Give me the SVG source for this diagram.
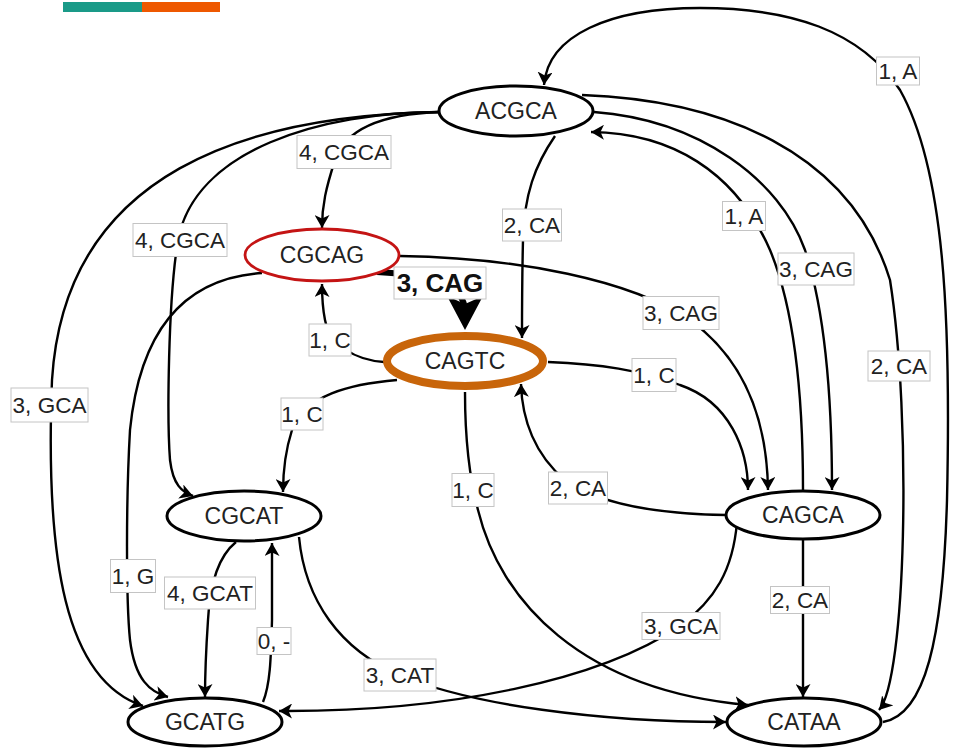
<svg xmlns="http://www.w3.org/2000/svg" width="955" height="751" viewBox="0 0 955 751">
  <style>
    .edge { fill: none; stroke: #000; stroke-width: 2.4; marker-end: url(#arrow); }
    .edge-bold { fill: none; stroke: #000; stroke-width: 6; marker-end: url(#arrow-bold); }
    .lbl rect { fill: #fff; stroke: #c4c4c4; stroke-width: 1; }
    .lbl text { font-family: "Liberation Sans", Arial, sans-serif; font-size: 22.5px; fill: #222; text-anchor: middle; }
    .lbl.bold text { font-weight: bold; font-size: 26px; fill: #111; }
    .node ellipse { fill: #fff; stroke: #000; stroke-width: 3; }
    .node text { font-family: "Liberation Sans", Arial, sans-serif; font-size: 23px; fill: #222; text-anchor: middle; }
    #n-CGCAG ellipse { stroke: #c41414; stroke-width: 2.8; }
    #n-CAGTC ellipse { stroke: #c8650a; stroke-width: 8; }
  </style>
  <defs>
    <marker id="arrow" markerUnits="userSpaceOnUse" markerWidth="14" markerHeight="15" refX="13" refY="7.5" orient="auto">
      <path d="M0,0 L13,7.5 L0,15 L3.5,7.5 z" fill="#000"/>
    </marker>
    <marker id="arrow-bold" markerUnits="userSpaceOnUse" markerWidth="36" markerHeight="38" refX="16" refY="18" orient="auto">
      <path d="M0,0 L34,18 L0,36 L8,18 z" fill="#000"/>
    </marker>
  </defs>

  <!-- colour bar -->
  <g id="legend-bar">
    <rect x="63" y="2" width="79" height="10" fill="#1a9a88"/>
    <rect x="142" y="2" width="78" height="10" fill="#ee5800"/>
  </g>

  <!-- connectors -->
  <g id="connectors">
    <path class="edge" d="M 440 112 C 380 114, 345 130, 335 160 C 326 188, 322 205, 322 228"/>
    <path class="edge" d="M 440 112 C 320 112, 195 150, 178 240 C 168 300, 167 420, 170 460 C 173 485, 182 492, 193 496"/>
    <path class="edge" d="M 440 112 C 250 115, 65 170, 52 380 C 45 560, 65 680, 143 706"/>
    <path class="edge" d="M 262 273 C 185 278, 140 330, 130 430 C 126 500, 126 600, 130 640 C 135 680, 150 692, 168 697"/>
    <path class="edge" d="M 400 256 C 520 258, 630 280, 690 320 C 745 360, 767 420, 768 490"/>
    <path class="edge-bold" d="M 377 272 C 435 275, 465 285, 465 312"/>
    <path class="edge" d="M 384 362 C 355 360, 330 345, 325 320 C 322 305, 322 295, 322 284"/>
    <path class="edge" d="M 555 136 C 535 165, 524 195, 523 240 C 522 280, 522 310, 522 338"/>
    <path class="edge" d="M 548 362 C 600 364, 640 370, 680 385 C 730 402, 748 450, 748 490"/>
    <path class="edge" d="M 726 515 C 660 514, 600 505, 565 480 C 535 455, 522 420, 521 384"/>
    <path class="edge" d="M 397 380 C 350 384, 305 395, 292 430 C 284 455, 283 475, 283 492"/>
    <path class="edge" d="M 465 392 C 465 440, 470 480, 478 510 C 500 600, 580 690, 748 705"/>
    <path class="edge" d="M 236 542 C 220 555, 210 580, 208 620 C 206 650, 205 670, 205 697"/>
    <path class="edge" d="M 263 702 C 270 685, 271 660, 272 620 C 272 590, 272 570, 272 543"/>
    <path class="edge" d="M 299 537 C 305 600, 340 650, 400 675 C 470 705, 600 722, 726 722"/>
    <path class="edge" d="M 737 522 C 733 570, 715 600, 680 626 C 600 680, 450 712, 279 711"/>
    <path class="edge" d="M 803 540 L 803 697"/>
    <path class="edge" d="M 594 112 C 700 120, 780 180, 805 250 C 828 320, 832 420, 832 490"/>
    <path class="edge" d="M 803 490 C 803 400, 795 310, 770 250 C 735 170, 670 133, 591 132"/>
    <path class="edge" d="M 582 95 C 720 100, 850 150, 890 280 C 912 420, 906 680, 879 710"/>
    <path class="edge" d="M 883 722 C 925 715, 943 640, 947 500 C 951 320, 945 170, 900 90 C 860 30, 790 8, 700 8 C 610 8, 548 35, 544 85"/>
  </g>

  <!-- edge labels -->
  <g id="edge-labels">
    <g class="lbl"><rect x="297" y="135.5" width="94" height="33"/><text x="344" y="160">4, CGCA</text></g>
    <g class="lbl"><rect x="133" y="223.5" width="94" height="33"/><text x="180" y="248">4, CGCA</text></g>
    <g class="lbl"><rect x="11" y="388" width="77" height="34"/><text x="49.5" y="413">3, GCA</text></g>
    <g class="lbl"><rect x="309" y="324" width="42" height="32"/><text x="330" y="348">1, C</text></g>
    <g class="lbl bold"><rect x="394" y="267" width="92" height="32"/><text x="440" y="292">3, CAG</text></g>
    <g class="lbl"><rect x="502.5" y="209" width="59" height="32"/><text x="532" y="233">2, CA</text></g>
    <g class="lbl"><rect x="643" y="296.5" width="76" height="33"/><text x="681" y="321">3, CAG</text></g>
    <g class="lbl"><rect x="632" y="358.5" width="44" height="33"/><text x="654" y="383">1, C</text></g>
    <g class="lbl"><rect x="722.5" y="201.5" width="43" height="29"/><text x="744" y="224">1, A</text></g>
    <g class="lbl"><rect x="778" y="253" width="76" height="32"/><text x="816" y="277">3, CAG</text></g>
    <g class="lbl"><rect x="868" y="351" width="62" height="30"/><text x="899" y="374">2, CA</text></g>
    <g class="lbl"><rect x="876.5" y="57" width="43" height="28"/><text x="898" y="79">1, A</text></g>
    <g class="lbl"><rect x="281" y="398" width="42" height="32"/><text x="302" y="422">1, C</text></g>
    <g class="lbl"><rect x="452" y="473.5" width="42" height="33"/><text x="473" y="498">1, C</text></g>
    <g class="lbl"><rect x="548.5" y="472" width="59" height="32"/><text x="578" y="496">2, CA</text></g>
    <g class="lbl"><rect x="110.5" y="559.5" width="45" height="33"/><text x="133" y="584">1, G</text></g>
    <g class="lbl"><rect x="164.5" y="577" width="91" height="32"/><text x="210" y="601">4, GCAT</text></g>
    <g class="lbl"><rect x="257" y="627.5" width="34" height="27"/><text x="274" y="649">0, -</text></g>
    <g class="lbl"><rect x="364" y="659" width="72" height="32"/><text x="400" y="683">3, CAT</text></g>
    <g class="lbl"><rect x="642" y="612.5" width="78" height="27"/><text x="681" y="634">3, GCA</text></g>
    <g class="lbl"><rect x="770.5" y="586.5" width="59" height="27"/><text x="800" y="608">2, CA</text></g>
  </g>

  <!-- nodes -->
  <g id="n-ACGCA" class="node"><ellipse cx="516" cy="111" rx="77" ry="25"/><text x="516" y="119">ACGCA</text></g>
  <g id="n-CGCAG" class="node"><ellipse cx="322" cy="255" rx="77" ry="26"/><text x="322" y="263">CGCAG</text></g>
  <g id="n-CAGTC" class="node"><ellipse cx="465" cy="361" rx="78" ry="25"/><text x="465" y="369">CAGTC</text></g>
  <g id="n-CGCAT" class="node"><ellipse cx="244" cy="516" rx="77" ry="25"/><text x="244" y="524">CGCAT</text></g>
  <g id="n-GCATG" class="node"><ellipse cx="205" cy="722" rx="77" ry="24"/><text x="205" y="730">GCATG</text></g>
  <g id="n-CAGCA" class="node"><ellipse cx="803" cy="515" rx="77" ry="24"/><text x="803" y="523">CAGCA</text></g>
  <g id="n-CATAA" class="node"><ellipse cx="804" cy="722" rx="77" ry="24"/><text x="804" y="730">CATAA</text></g>
</svg>
